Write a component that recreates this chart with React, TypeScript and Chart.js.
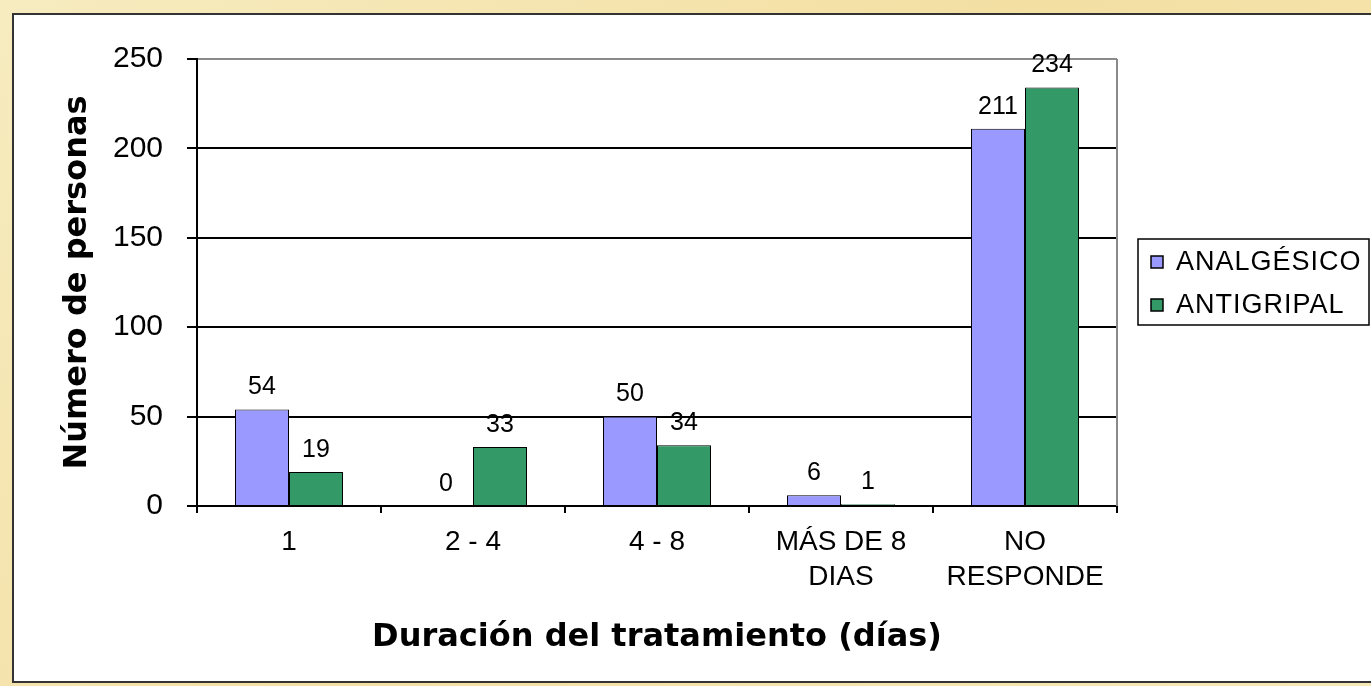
import React, { useEffect, useRef } from "react";
import { Chart, registerables } from "chart.js";

Chart.register(...registerables);

const categories: (string | string[])[] = ["1", "2 - 4", "4 - 8", ["MÁS DE 8", "DIAS"], ["NO", "RESPONDE"]];
const seriesNames = ["ANALGÉSICO", "ANTIGRIPAL"];
const analgesico = [54, 0, 50, 6, 211];
const antigripal = [19, 33, 34, 1, 234];
const yTicks = [0, 50, 100, 150, 200, 250];
const xTitle = "Duración del tratamiento (días)";
const yTitle = "Número de personas";

const COLORS = ["#9999ff", "#339966"];
const ARIAL = '"Liberation Sans", Arial, sans-serif';
const TITLE_FONT = '"DejaVu Sans", Verdana, sans-serif';

const W = 1371;
const H = 686;

const labelsPlugin = {
  id: "valueLabels",
  afterDatasetsDraw(chart: any) {
    const ctx = chart.ctx;
    ctx.save();
    ctx.font = `25px ${ARIAL}`;
    ctx.fillStyle = "#000";
    ctx.textAlign = "center";
    ctx.textBaseline = "middle";
    chart.data.datasets.forEach((ds: any, i: number) => {
      const meta = chart.getDatasetMeta(i);
      meta.data.forEach((el: any, j: number) => {
        ctx.fillText(String(ds.data[j]), el.x, el.y - 22);
      });
    });
    ctx.restore();
  },
};

const framePlugin = {
  id: "frame",
  beforeDatasetsDraw(chart: any) {
    const { ctx, chartArea } = chart;
    ctx.save();
    ctx.strokeStyle = "#8a8a8a";
    ctx.lineWidth = 2;
    ctx.beginPath();
    ctx.moveTo(chartArea.right, chartArea.top);
    ctx.lineTo(chartArea.right, chartArea.bottom);
    ctx.stroke();
    ctx.restore();
  },
};

const legendPlugin = {
  id: "boxLegend",
  afterDraw(chart: any) {
    const { ctx, chartArea } = chart;
    const x = chartArea.right + 21;
    const y = chartArea.top + 180;
    const w = 231;
    const h = 86;
    ctx.save();
    ctx.strokeStyle = "#000";
    ctx.lineWidth = 1.5;
    ctx.strokeRect(x, y, w, h);
    ctx.font = `27px ${ARIAL}`;
    (ctx as any).letterSpacing = "1px";
    ctx.textAlign = "left";
    ctx.textBaseline = "middle";
    chart.data.datasets.forEach((ds: any, i: number) => {
      const cy = y + 23 + i * 43;
      ctx.fillStyle = ds.backgroundColor;
      ctx.fillRect(x + 13, cy - 6, 12, 12);
      ctx.strokeStyle = "#000";
      ctx.lineWidth = 1.5;
      ctx.strokeRect(x + 13, cy - 6, 12, 12);
      ctx.fillStyle = "#000";
      ctx.fillText(ds.label, x + 38, cy + 1);
    });
    ctx.restore();
  },
};

export default function App() {
  const canvasRef = useRef<HTMLCanvasElement | null>(null);

  useEffect(() => {
    const canvas = canvasRef.current;
    if (!canvas) return;
    const chart = new Chart(canvas, {
      type: "bar",
      data: {
        labels: categories as any,
        datasets: [
          {
            label: seriesNames[0],
            data: analgesico,
            backgroundColor: COLORS[0],
            borderColor: "#000",
            borderWidth: 1,
            categoryPercentage: 0.587,
            barPercentage: 1,
          },
          {
            label: seriesNames[1],
            data: antigripal,
            backgroundColor: COLORS[1],
            borderColor: "#000",
            borderWidth: 1,
            categoryPercentage: 0.587,
            barPercentage: 1,
          },
        ],
      },
      options: {
        responsive: false,
        animation: false,
        devicePixelRatio: 1,
        layout: { padding: { left: 0, top: 59, right: W - 1117, bottom: 0 } },
        plugins: {
          legend: { display: false },
          tooltip: { enabled: false },
          title: { display: false },
        },
        scales: {
          x: {
            afterFit(scale: any) {
              scale.height = H - 506;
            },
            grid: {
              offset: true,
              drawOnChartArea: false,
              drawTicks: true,
              tickLength: 7,
              tickColor: "#000",
              lineWidth: 2,
            },
            border: { display: true, color: "#000", width: 2 },
            ticks: {
              color: "#000",
              font: { family: ARIAL, size: 28, lineHeight: "35px" as any },
              padding: 12,
              maxRotation: 0,
              autoSkip: false,
            },
            title: {
              display: true,
              text: xTitle,
              color: "#000",
              font: { family: TITLE_FONT, size: 32, weight: "bold", lineHeight: 1.2 },
              padding: { top: 0, bottom: 29 },
            },
          },
          y: {
            min: 0,
            max: 250,
            afterFit(scale: any) {
              scale.width = 197;
            },
            afterBuildTicks(scale: any) {
              scale.ticks = yTicks.map((v) => ({ value: v }));
            },
            grid: {
              color: (c: any) => (c.tick && c.tick.value === 250 ? "#8a8a8a" : "#000"),
              tickColor: "#000",
              tickLength: 10,
              lineWidth: 2,
            },
            border: { display: true, color: "#000", width: 2 },
            ticks: {
              color: "#000",
              font: { family: ARIAL, size: 30 },
              padding: 24,
            },
            title: {
              display: true,
              text: yTitle,
              color: "#000",
              font: { family: TITLE_FONT, size: 32, weight: "bold", lineHeight: 1.2 },
              padding: { top: 58, bottom: 0 },
            },
          },
        },
      },
      plugins: [framePlugin, labelsPlugin, legendPlugin],
    });
    return () => chart.destroy();
  }, []);

  return (
    <div
      style={{
        position: "fixed",
        left: 0,
        top: 0,
        width: W,
        height: H,
        overflow: "hidden",
        background: "linear-gradient(135deg, #f7ecc0 0%, #f3dfa2 50%, #f6e8b6 100%)",
      }}
    >
      <div
        style={{
          position: "absolute",
          left: 12,
          top: 13,
          width: W + 20,
          height: 670,
          boxSizing: "border-box",
          border: "2px solid #333",
          background: "#fff",
        }}
      />
      <canvas
        ref={canvasRef}
        width={W}
        height={H}
        style={{ position: "absolute", left: 0, top: 0, width: W, height: H }}
      />
    </div>
  );
}
